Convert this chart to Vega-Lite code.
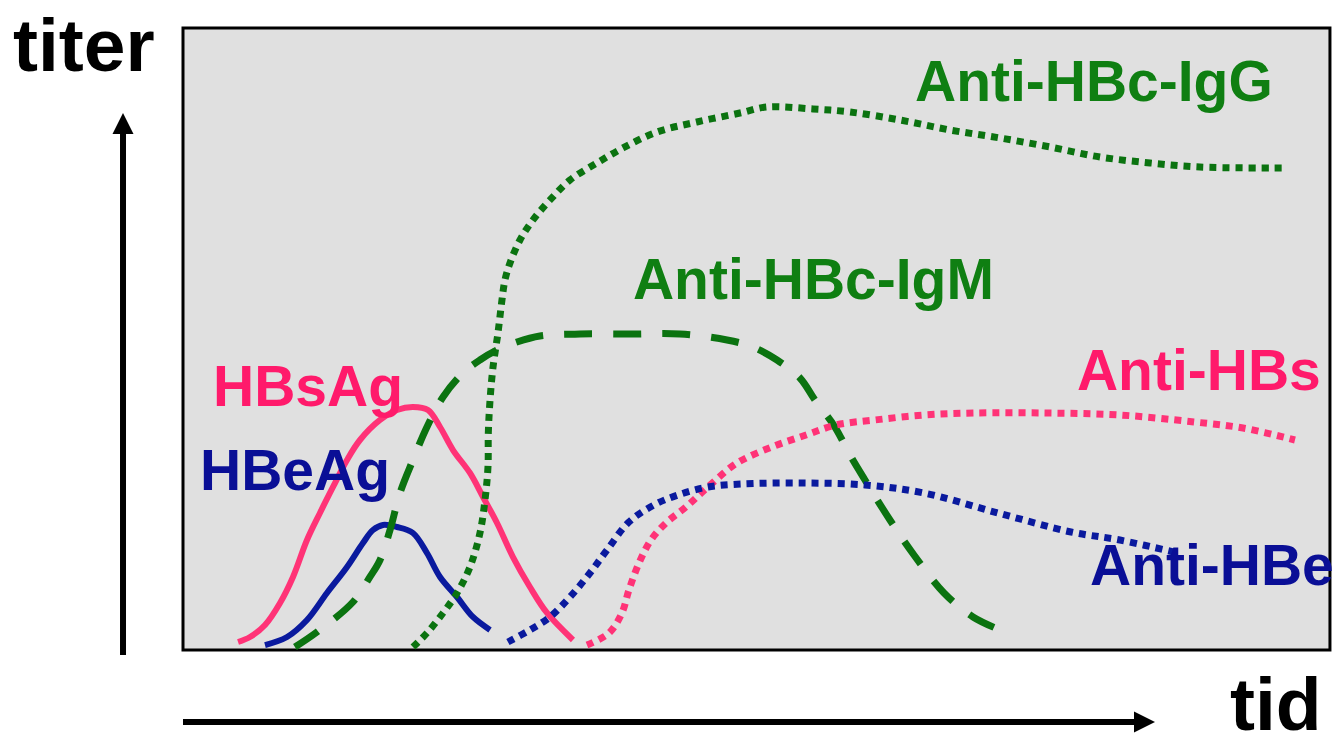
{
  "$schema": "https://vega.github.io/schema/vega-lite/v6.json",
  "width": 1342,
  "height": 754,
  "autosize": {"type": "none"},
  "padding": 0,
  "background": "white",
  "config": {"view": {"stroke": null}},
  "resolve": {"scale": {"color": "independent"}},
  "datasets": {
    "box": [{"t": 0, "t2": 100, "titer": 0, "titer2": 100}],
    "curves": [
      {"s": "HBsAg", "o": 1, "t": 4.80, "titer": 1.29},
      {"s": "HBsAg", "o": 2, "t": 5.84, "titer": 2.09},
      {"s": "HBsAg", "o": 3, "t": 7.15, "titer": 4.02},
      {"s": "HBsAg", "o": 4, "t": 8.46, "titer": 7.56},
      {"s": "HBsAg", "o": 5, "t": 9.59, "titer": 11.74},
      {"s": "HBsAg", "o": 6, "t": 10.81, "titer": 17.68},
      {"s": "HBsAg", "o": 7, "t": 11.94, "titer": 22.03},
      {"s": "HBsAg", "o": 8, "t": 13.08, "titer": 26.21},
      {"s": "HBsAg", "o": 9, "t": 14.30, "titer": 30.55},
      {"s": "HBsAg", "o": 10, "t": 15.43, "titer": 33.76},
      {"s": "HBsAg", "o": 11, "t": 17.18, "titer": 36.98},
      {"s": "HBsAg", "o": 12, "t": 18.66, "titer": 38.59},
      {"s": "HBsAg", "o": 13, "t": 20.05, "titer": 39.07},
      {"s": "HBsAg", "o": 14, "t": 21.36, "titer": 38.59},
      {"s": "HBsAg", "o": 15, "t": 22.41, "titer": 35.85},
      {"s": "HBsAg", "o": 16, "t": 23.54, "titer": 32.15},
      {"s": "HBsAg", "o": 17, "t": 25.02, "titer": 28.46},
      {"s": "HBsAg", "o": 18, "t": 26.16, "titer": 24.60},
      {"s": "HBsAg", "o": 19, "t": 27.38, "titer": 20.42},
      {"s": "HBsAg", "o": 20, "t": 28.77, "titer": 14.95},
      {"s": "HBsAg", "o": 21, "t": 30.25, "titer": 10.13},
      {"s": "HBsAg", "o": 22, "t": 31.74, "titer": 5.95},
      {"s": "HBsAg", "o": 23, "t": 34.00, "titer": 1.61},

      {"s": "HBeAg", "o": 1, "t": 7.15, "titer": 0.80},
      {"s": "HBeAg", "o": 2, "t": 9.07, "titer": 2.09},
      {"s": "HBeAg", "o": 3, "t": 10.81, "titer": 4.82},
      {"s": "HBeAg", "o": 4, "t": 12.55, "titer": 9.16},
      {"s": "HBeAg", "o": 5, "t": 14.30, "titer": 13.34},
      {"s": "HBeAg", "o": 6, "t": 15.69, "titer": 17.20},
      {"s": "HBeAg", "o": 7, "t": 16.56, "titer": 19.29},
      {"s": "HBeAg", "o": 8, "t": 17.44, "titer": 20.10},
      {"s": "HBeAg", "o": 9, "t": 18.66, "titer": 19.77},
      {"s": "HBeAg", "o": 10, "t": 20.05, "titer": 18.81},
      {"s": "HBeAg", "o": 11, "t": 21.27, "titer": 15.59},
      {"s": "HBeAg", "o": 12, "t": 22.41, "titer": 11.74},
      {"s": "HBeAg", "o": 13, "t": 23.89, "titer": 8.52},
      {"s": "HBeAg", "o": 14, "t": 25.28, "titer": 5.31},
      {"s": "HBeAg", "o": 15, "t": 26.77, "titer": 3.22},

      {"s": "Anti-HBc-IgM", "o": 1, "t": 9.76, "titer": 0.48},
      {"s": "Anti-HBc-IgM", "o": 2, "t": 11.68, "titer": 2.89},
      {"s": "Anti-HBc-IgM", "o": 3, "t": 14.82, "titer": 7.72},
      {"s": "Anti-HBc-IgM", "o": 4, "t": 16.30, "titer": 11.74},
      {"s": "Anti-HBc-IgM", "o": 5, "t": 17.18, "titer": 14.47},
      {"s": "Anti-HBc-IgM", "o": 6, "t": 18.05, "titer": 19.29},
      {"s": "Anti-HBc-IgM", "o": 7, "t": 18.92, "titer": 25.24},
      {"s": "Anti-HBc-IgM", "o": 8, "t": 20.05, "titer": 30.55},
      {"s": "Anti-HBc-IgM", "o": 9, "t": 21.27, "titer": 35.85},
      {"s": "Anti-HBc-IgM", "o": 10, "t": 22.67, "titer": 40.68},
      {"s": "Anti-HBc-IgM", "o": 11, "t": 24.41, "titer": 44.53},
      {"s": "Anti-HBc-IgM", "o": 12, "t": 25.89, "titer": 46.62},
      {"s": "Anti-HBc-IgM", "o": 13, "t": 27.38, "titer": 48.23},
      {"s": "Anti-HBc-IgM", "o": 14, "t": 29.12, "titer": 49.52},
      {"s": "Anti-HBc-IgM", "o": 15, "t": 31.12, "titer": 50.48},
      {"s": "Anti-HBc-IgM", "o": 16, "t": 34.61, "titer": 50.80},
      {"s": "Anti-HBc-IgM", "o": 17, "t": 38.97, "titer": 50.80},
      {"s": "Anti-HBc-IgM", "o": 18, "t": 43.33, "titer": 50.80},
      {"s": "Anti-HBc-IgM", "o": 19, "t": 47.43, "titer": 49.84},
      {"s": "Anti-HBc-IgM", "o": 20, "t": 49.69, "titer": 48.71},
      {"s": "Anti-HBc-IgM", "o": 21, "t": 51.79, "titer": 46.62},
      {"s": "Anti-HBc-IgM", "o": 22, "t": 53.79, "titer": 43.73},
      {"s": "Anti-HBc-IgM", "o": 23, "t": 55.10, "titer": 40.19},
      {"s": "Anti-HBc-IgM", "o": 24, "t": 56.84, "titer": 35.85},
      {"s": "Anti-HBc-IgM", "o": 25, "t": 58.15, "titer": 31.35},
      {"s": "Anti-HBc-IgM", "o": 26, "t": 59.46, "titer": 27.33},
      {"s": "Anti-HBc-IgM", "o": 27, "t": 61.64, "titer": 20.90},
      {"s": "Anti-HBc-IgM", "o": 28, "t": 63.73, "titer": 15.27},
      {"s": "Anti-HBc-IgM", "o": 29, "t": 66.35, "titer": 9.16},
      {"s": "Anti-HBc-IgM", "o": 30, "t": 68.88, "titer": 5.31},
      {"s": "Anti-HBc-IgM", "o": 31, "t": 71.23, "titer": 3.22},

      {"s": "Anti-HBc-IgG", "o": 1, "t": 20.05, "titer": 0.48},
      {"s": "Anti-HBc-IgG", "o": 2, "t": 21.27, "titer": 2.73},
      {"s": "Anti-HBc-IgG", "o": 3, "t": 22.67, "titer": 5.95},
      {"s": "Anti-HBc-IgG", "o": 4, "t": 23.89, "titer": 9.16},
      {"s": "Anti-HBc-IgG", "o": 5, "t": 25.02, "titer": 13.34},
      {"s": "Anti-HBc-IgG", "o": 6, "t": 25.89, "titer": 18.81},
      {"s": "Anti-HBc-IgG", "o": 7, "t": 26.33, "titer": 24.12},
      {"s": "Anti-HBc-IgG", "o": 8, "t": 26.59, "titer": 29.42},
      {"s": "Anti-HBc-IgG", "o": 9, "t": 26.62, "titer": 34.89},
      {"s": "Anti-HBc-IgG", "o": 10, "t": 26.77, "titer": 40.19},
      {"s": "Anti-HBc-IgG", "o": 11, "t": 27.03, "titer": 45.50},
      {"s": "Anti-HBc-IgG", "o": 12, "t": 27.46, "titer": 50.96},
      {"s": "Anti-HBc-IgG", "o": 13, "t": 27.81, "titer": 56.27},
      {"s": "Anti-HBc-IgG", "o": 14, "t": 28.07, "titer": 59.49},
      {"s": "Anti-HBc-IgG", "o": 15, "t": 28.51, "titer": 62.22},
      {"s": "Anti-HBc-IgG", "o": 16, "t": 29.38, "titer": 65.92},
      {"s": "Anti-HBc-IgG", "o": 17, "t": 30.51, "titer": 69.13},
      {"s": "Anti-HBc-IgG", "o": 18, "t": 32.00, "titer": 72.35},
      {"s": "Anti-HBc-IgG", "o": 19, "t": 33.74, "titer": 75.56},
      {"s": "Anti-HBc-IgG", "o": 20, "t": 36.09, "titer": 78.30},
      {"s": "Anti-HBc-IgG", "o": 21, "t": 38.36, "titer": 80.71},
      {"s": "Anti-HBc-IgG", "o": 22, "t": 41.33, "titer": 83.28},
      {"s": "Anti-HBc-IgG", "o": 23, "t": 44.81, "titer": 84.89},
      {"s": "Anti-HBc-IgG", "o": 24, "t": 48.56, "titer": 86.33},
      {"s": "Anti-HBc-IgG", "o": 25, "t": 50.92, "titer": 87.30},
      {"s": "Anti-HBc-IgG", "o": 26, "t": 54.93, "titer": 86.98},
      {"s": "Anti-HBc-IgG", "o": 27, "t": 58.15, "titer": 86.50},
      {"s": "Anti-HBc-IgG", "o": 28, "t": 62.51, "titer": 85.21},
      {"s": "Anti-HBc-IgG", "o": 29, "t": 66.87, "titer": 83.60},
      {"s": "Anti-HBc-IgG", "o": 30, "t": 71.23, "titer": 82.32},
      {"s": "Anti-HBc-IgG", "o": 31, "t": 75.59, "titer": 80.87},
      {"s": "Anti-HBc-IgG", "o": 32, "t": 79.95, "titer": 79.26},
      {"s": "Anti-HBc-IgG", "o": 33, "t": 84.31, "titer": 78.30},
      {"s": "Anti-HBc-IgG", "o": 34, "t": 88.67, "titer": 77.65},
      {"s": "Anti-HBc-IgG", "o": 35, "t": 95.90, "titer": 77.49},

      {"s": "Anti-HBs", "o": 1, "t": 35.22, "titer": 0.80},
      {"s": "Anti-HBs", "o": 2, "t": 37.14, "titer": 2.73},
      {"s": "Anti-HBs", "o": 3, "t": 38.27, "titer": 5.95},
      {"s": "Anti-HBs", "o": 4, "t": 38.88, "titer": 9.65},
      {"s": "Anti-HBs", "o": 5, "t": 39.76, "titer": 13.99},
      {"s": "Anti-HBs", "o": 6, "t": 40.80, "titer": 17.68},
      {"s": "Anti-HBs", "o": 7, "t": 42.11, "titer": 20.42},
      {"s": "Anti-HBs", "o": 8, "t": 43.85, "titer": 22.99},
      {"s": "Anti-HBs", "o": 9, "t": 45.77, "titer": 26.21},
      {"s": "Anti-HBs", "o": 10, "t": 48.30, "titer": 30.06},
      {"s": "Anti-HBs", "o": 11, "t": 51.35, "titer": 32.64},
      {"s": "Anti-HBs", "o": 12, "t": 54.32, "titer": 34.57},
      {"s": "Anti-HBs", "o": 13, "t": 56.93, "titer": 36.17},
      {"s": "Anti-HBs", "o": 14, "t": 60.33, "titer": 36.98},
      {"s": "Anti-HBs", "o": 15, "t": 64.60, "titer": 37.78},
      {"s": "Anti-HBs", "o": 16, "t": 68.88, "titer": 38.10},
      {"s": "Anti-HBs", "o": 17, "t": 75.33, "titer": 38.10},
      {"s": "Anti-HBs", "o": 18, "t": 81.69, "titer": 37.78},
      {"s": "Anti-HBs", "o": 19, "t": 88.14, "titer": 36.66},
      {"s": "Anti-HBs", "o": 20, "t": 92.42, "titer": 35.69},
      {"s": "Anti-HBs", "o": 21, "t": 96.95, "titer": 33.76},

      {"s": "Anti-HBe", "o": 1, "t": 28.33, "titer": 1.29},
      {"s": "Anti-HBe", "o": 2, "t": 30.25, "titer": 3.22},
      {"s": "Anti-HBe", "o": 3, "t": 32.00, "titer": 5.31},
      {"s": "Anti-HBe", "o": 4, "t": 33.74, "titer": 8.52},
      {"s": "Anti-HBe", "o": 5, "t": 35.48, "titer": 12.38},
      {"s": "Anti-HBe", "o": 6, "t": 36.97, "titer": 16.08},
      {"s": "Anti-HBe", "o": 7, "t": 38.88, "titer": 20.58},
      {"s": "Anti-HBe", "o": 8, "t": 41.06, "titer": 23.31},
      {"s": "Anti-HBe", "o": 9, "t": 43.16, "titer": 24.92},
      {"s": "Anti-HBe", "o": 10, "t": 45.77, "titer": 26.21},
      {"s": "Anti-HBe", "o": 11, "t": 48.74, "titer": 26.69},
      {"s": "Anti-HBe", "o": 12, "t": 53.88, "titer": 26.85},
      {"s": "Anti-HBe", "o": 13, "t": 59.46, "titer": 26.53},
      {"s": "Anti-HBe", "o": 14, "t": 64.60, "titer": 25.24},
      {"s": "Anti-HBe", "o": 15, "t": 71.05, "titer": 22.03},
      {"s": "Anti-HBe", "o": 16, "t": 77.42, "titer": 18.97},
      {"s": "Anti-HBe", "o": 17, "t": 81.69, "titer": 17.68},
      {"s": "Anti-HBe", "o": 18, "t": 86.75, "titer": 15.59}
    ],
    "labels": [
      {"s": "HBsAg", "t": 2.62, "titer": 39.23},
      {"s": "HBeAg", "t": 1.48, "titer": 25.72},
      {"s": "Anti-HBc-IgG", "t": 63.82, "titer": 88.26},
      {"s": "Anti-HBc-IgM", "t": 39.23, "titer": 56.43},
      {"s": "Anti-HBs", "t": 77.94, "titer": 41.80},
      {"s": "Anti-HBe", "t": 79.08, "titer": 10.45}
    ],
    "shafts": [
      {"name": "titer", "t": -5.23, "t2": -5.23, "titer": -0.8, "titer2": 82.96},
      {"name": "tid", "t": 0, "t2": 83.0, "titer": -11.58, "titer2": -11.58}
    ],
    "heads": [
      {"name": "titer", "t": -5.23, "titer": 84.65},
      {"name": "tid", "t": 83.83, "titer": -11.58}
    ],
    "axisTitles": [
      {"name": "titer", "t": -14.82, "titer": 93.09},
      {"name": "tid", "t": 91.28, "titer": -12.86}
    ]
  },
  "encoding": {
    "x": {"field": "t", "type": "quantitative", "scale": {"domain": [-15.955, 101.05], "nice": false, "zero": false}, "axis": null},
    "y": {"field": "titer", "type": "quantitative", "scale": {"domain": [-16.72, 104.5], "nice": false, "zero": false}, "axis": null}
  },
  "layer": [
    {
      "data": {"name": "box"},
      "mark": {"type": "rect", "fill": "#e0e0e0", "stroke": "black", "strokeWidth": 3},
      "encoding": {"x2": {"field": "t2"}, "y2": {"field": "titer2"}}
    },
    {
      "data": {"name": "curves"},
      "transform": [{"filter": "datum.s === 'HBsAg' || datum.s === 'HBeAg'"}],
      "mark": {"type": "line", "strokeWidth": 6, "interpolate": "catmull-rom", "strokeCap": "butt"},
      "encoding": {
        "detail": {"field": "s"},
        "order": {"field": "o", "type": "quantitative"},
        "color": {"field": "s", "type": "nominal", "legend": null,
          "scale": {"domain": ["HBsAg", "HBeAg"], "range": ["#ff3377", "#0a1a9e"]}}
      }
    },
    {
      "data": {"name": "curves"},
      "transform": [{"filter": "datum.s === 'Anti-HBc-IgM'"}],
      "mark": {"type": "line", "strokeWidth": 7, "interpolate": "catmull-rom", "strokeDash": [28, 21], "strokeCap": "butt"},
      "encoding": {
        "detail": {"field": "s"},
        "order": {"field": "o", "type": "quantitative"},
        "color": {"field": "s", "type": "nominal", "legend": null,
          "scale": {"domain": ["Anti-HBc-IgM"], "range": ["#0b7310"]}}
      }
    },
    {
      "data": {"name": "curves"},
      "transform": [{"filter": "datum.s === 'Anti-HBc-IgG' || datum.s === 'Anti-HBs' || datum.s === 'Anti-HBe'"}],
      "mark": {"type": "line", "strokeWidth": 7, "interpolate": "catmull-rom", "strokeDash": [7, 6], "strokeCap": "butt"},
      "encoding": {
        "detail": {"field": "s"},
        "order": {"field": "o", "type": "quantitative"},
        "color": {"field": "s", "type": "nominal", "legend": null,
          "scale": {"domain": ["Anti-HBc-IgG", "Anti-HBs", "Anti-HBe"], "range": ["#0b7310", "#ff3377", "#0a1a9e"]}}
      }
    },
    {
      "data": {"name": "labels"},
      "mark": {"type": "text", "font": "Liberation Sans", "fontWeight": "bold", "fontSize": 57, "align": "left", "baseline": "alphabetic"},
      "encoding": {
        "text": {"field": "s"},
        "color": {"field": "s", "type": "nominal", "legend": null,
          "scale": {"domain": ["HBsAg", "HBeAg", "Anti-HBc-IgM", "Anti-HBc-IgG", "Anti-HBs", "Anti-HBe"],
                    "range": ["#ff1a6b", "#0a0f96", "#0f7f12", "#0f7f12", "#ff1a6b", "#0a0f96"]}}
      }
    },
    {
      "data": {"name": "shafts"},
      "mark": {"type": "rule", "color": "black", "strokeWidth": 6, "strokeCap": "butt"},
      "encoding": {"x2": {"field": "t2"}, "y2": {"field": "titer2"}}
    },
    {
      "data": {"name": "heads"},
      "mark": {"type": "point", "filled": true, "color": "black", "size": 441, "opacity": 1},
      "encoding": {
        "shape": {"field": "name", "type": "nominal", "legend": null,
          "scale": {"domain": ["titer", "tid"], "range": ["M-1,1L0,-1L1,1Z", "M-1,-1L1,0L-1,1Z"]}}
      }
    },
    {
      "data": {"name": "axisTitles"},
      "mark": {"type": "text", "font": "Liberation Sans", "fontWeight": "bold", "fontSize": 75, "align": "left", "baseline": "alphabetic", "color": "black"},
      "encoding": {"text": {"field": "name"}}
    }
  ]
}
